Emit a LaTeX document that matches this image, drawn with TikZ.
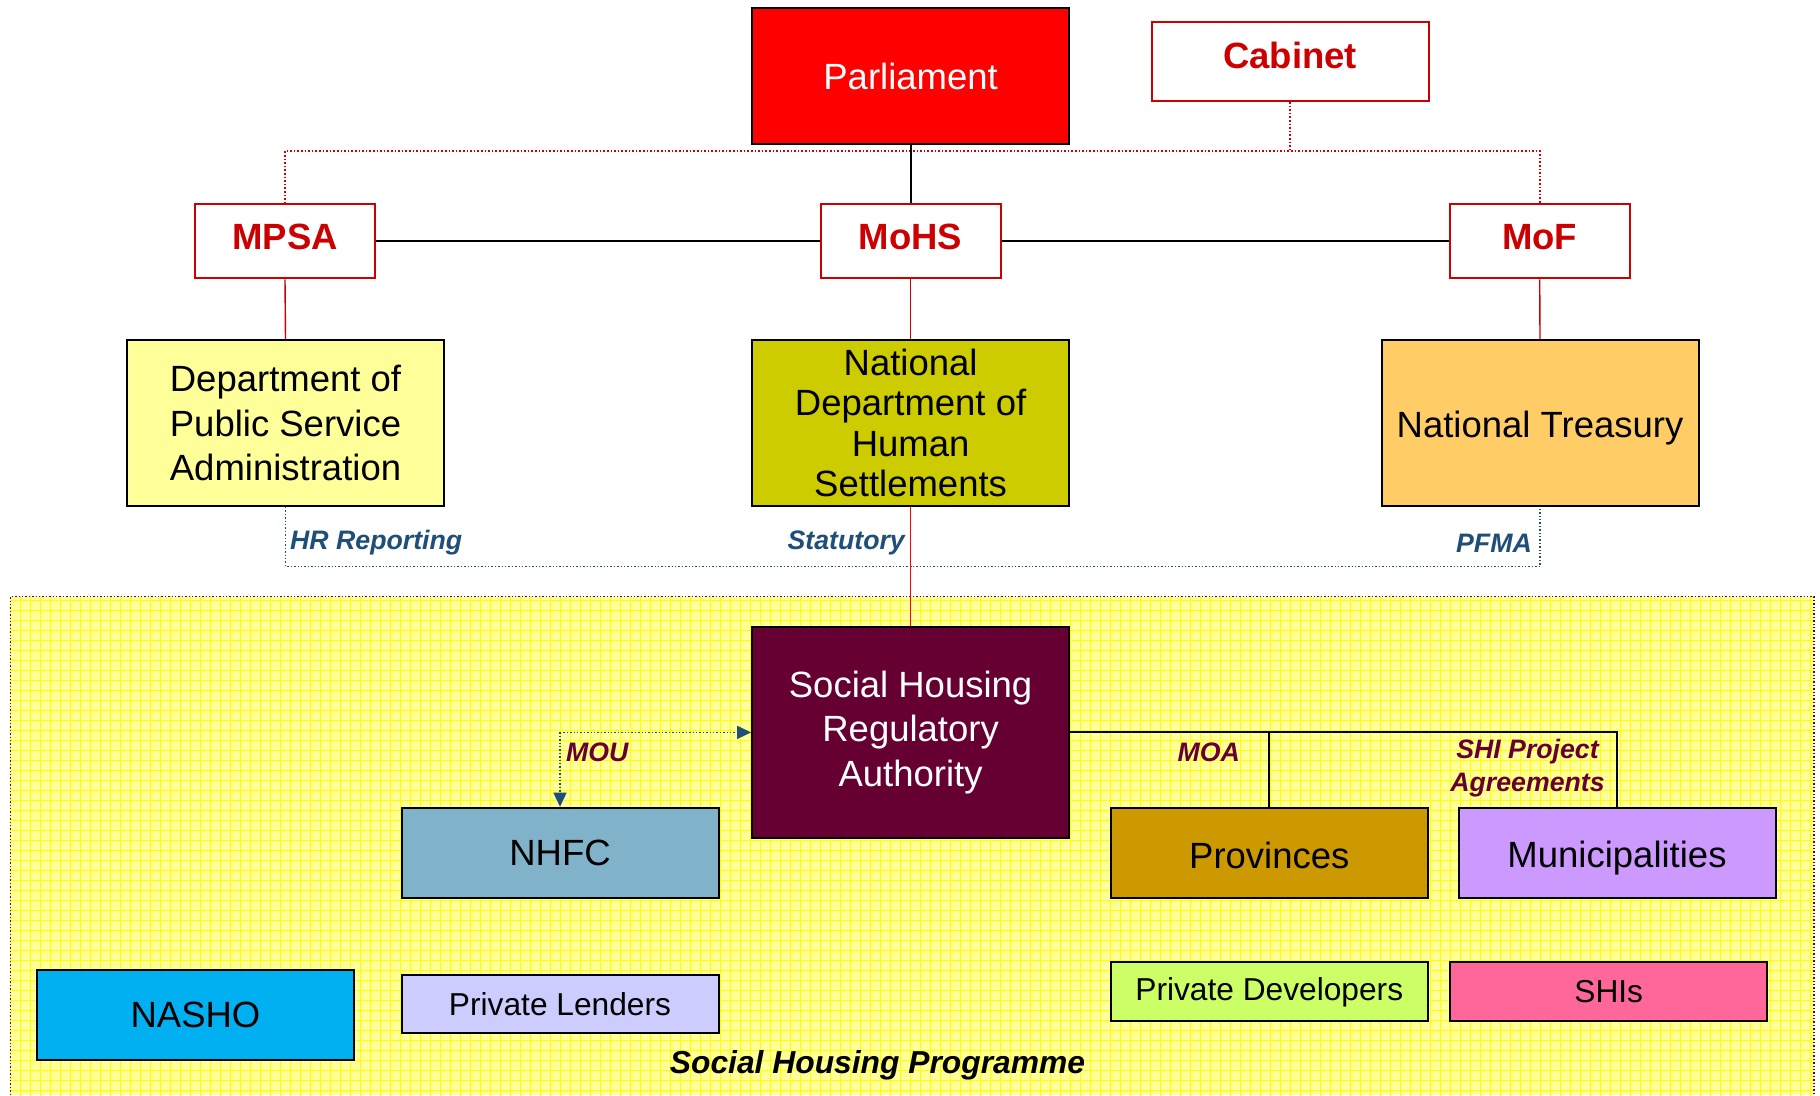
\documentclass[tikz,border=0pt]{standalone}
\usepackage{fontspec}
\setmainfont{Liberation Sans}
\usetikzlibrary{arrows.meta}
\definecolor{parlred}{HTML}{FF0000}
\definecolor{minred}{HTML}{CC0000}
\definecolor{dpsafill}{HTML}{FFFF99}
\definecolor{ndhsfill}{HTML}{CCCC00}
\definecolor{ntfill}{HTML}{FFCC66}
\definecolor{shrafill}{HTML}{660033}
\definecolor{nhfcfill}{HTML}{80B3C9}
\definecolor{provfill}{HTML}{CC9900}
\definecolor{munifill}{HTML}{CC99FF}
\definecolor{nashofill}{HTML}{00B0F0}
\definecolor{lendfill}{HTML}{CCCCFF}
\definecolor{devfill}{HTML}{CCFF66}
\definecolor{shifill}{HTML}{FF6699}
\definecolor{linkblue}{HTML}{1F4E79}
\definecolor{maroon}{HTML}{660033}
\definecolor{progbg}{HTML}{FFFF9C}
\definecolor{progmesh}{HTML}{FFFF00}
% a one-line label set on its baseline, shifted by #1 from the node centre
\newcommand{\lifted}[2]{\raisebox{#1}[0pt][0pt]{#2}}
\begin{document}
\begin{tikzpicture}[x=1pt,y=-1pt,
  box/.style={draw=black, line width=2pt, inner sep=0pt, align=center,
    minimum width=317pt, font=\fontsize{36.5}{44.7}\selectfont},
  smallbox/.style={box, font=\fontsize{31.7}{38}\selectfont},
  minbox/.style={draw=minred, fill=white, line width=2pt, inner sep=0pt,
    minimum width=180pt, minimum height=74pt, text=minred,
    font=\fontsize{36.5}{44}\selectfont\bfseries},
  bluelabel/.style={text=linkblue, inner sep=0pt,
    font=\fontsize{26.7}{31}\selectfont\bfseries\itshape},
  maroonlabel/.style={text=maroon, inner sep=0pt, align=center,
    font=\fontsize{26.7}{32.5}\selectfont\bfseries\itshape},
  reddots/.style={draw=minred, line width=1.6pt, dotted},
  bluedots/.style={draw=linkblue, line width=1.4pt, dotted},
  link/.style={draw=black, line width=2pt},
]
\useasboundingbox (0,0) rectangle (1820,1095);
\fill[white] (0,0) rectangle (1820,1095);

% Social Housing Programme area with its mesh
\fill[progbg] (10.4,596.6) rectangle (1814,1095);
\begin{scope}
  \clip (10.4,596.6) rectangle (1814,1095);
  \draw[progmesh, line width=1pt, xstep=10pt, ystep=10pt] (10,596) grid (1820,1100);
\end{scope}
\draw[maroon, line width=1.4pt, dotted] (10.4,1095) -- (10.4,596.6) -- (1814,596.6) -- (1814,1095);

% Nodes
\node[box, fill=parlred, text=white, minimum height=136pt] (parl) at (910.6,76) {Parliament};
\node[minbox, minimum width=277pt, minimum height=79pt] (cab) at (1290,61.5) {\lifted{-6.5pt}{Cabinet}};
\node[minbox] (mpsa) at (285,241.4) {\lifted{-8.5pt}{MPSA}};
\node[minbox] (mohs) at (910.6,241.4) {\lifted{-8.5pt}{MoHS}};
\node[minbox] (mof) at (1539.7,241.4) {\lifted{-8.5pt}{MoF}};

\node[box, fill=dpsafill, minimum height=166pt] (dpsa) at (285.5,423) {Department of\\Public Service\\Administration};
\node[box, fill=ndhsfill, minimum height=166pt, font=\fontsize{36.5}{40.3}\selectfont] (ndhs) at (910.6,423) {National\\Department of\\Human\\Settlements};
\node[box, fill=ntfill, minimum height=166pt] (nt) at (1540,423) {\lifted{-14.5pt}{National Treasury}};

\node[box, fill=shrafill, text=white, minimum height=211pt] (shra) at (910.6,732.4) {Social Housing\\Regulatory\\Authority};
\node[box, fill=nhfcfill, minimum height=90.6pt] (nhfc) at (560,853) {NHFC};
\node[box, fill=provfill, minimum height=90.6pt] (prov) at (1269.3,853) {\lifted{-15pt}{Provinces}};
\node[box, fill=munifill, minimum height=90.6pt] (muni) at (1617,853) {\lifted{-14.5pt}{Municipalities}};

\node[box, fill=nashofill, minimum height=89.3pt] (nasho) at (195.5,1015) {NASHO};
\node[smallbox, fill=lendfill, minimum height=58pt] (lend) at (560,1004) {Private Lenders};
\node[smallbox, fill=devfill, minimum height=59pt] (dev) at (1269.3,991.8) {Private Developers};
\node[smallbox, fill=shifill, minimum height=59pt] (shi) at (1608.7,991.8) {SHIs};

% Political oversight: Parliament and Cabinet over the ministers
\coordinate (rail) at (910.6,150.9);
\draw[reddots] (mpsa.north) |- (rail) -| (mof.north);
\draw[reddots] (cab.south) -- (cab.south |- rail);
\draw[link] (parl.south) -- (mohs.north);

% Ministers
\draw[link] (mpsa.east) -- (mohs.west);
\draw[link] (mohs.east) -- (mof.west);
\draw[minred, line width=1.4pt] (mpsa.south) -- (dpsa.north);
\draw[minred, line width=1.4pt] (mohs.south) -- (ndhs.north);
\draw[minred, line width=1.4pt] (mof.south) -- (nt.north);

% Reporting lines of the departments
\coordinate (report) at (910.6,566.4);
\draw[bluedots] (dpsa.south) |- (report) -| (nt.south);
\draw[parlred, line width=1.6pt] (ndhs.south) -- (shra.north);
\node[bluelabel, anchor=west] (hrlab) at (290,543) {HR Reporting};
\node[bluelabel, anchor=east] (statlab) at (905,543) {Statutory};
\node[bluelabel, anchor=east] (pfmalab) at (1532,543) {PFMA};

% Agreements of the regulator
\coordinate (mouc) at (nhfc.north |- shra.west);
\draw[bluedots, -{Triangle[length=14pt, width=13pt]}] (mouc) -- (shra.west);
\draw[bluedots, -{Triangle[length=14pt, width=13pt]}] (mouc) -- (nhfc.north);
\node[maroonlabel, anchor=west] (moulab) at (566,752) {MOU};

\coordinate (agr) at (muni.north |- shra.east);
\draw[link] (shra.east) -- (agr) -- (muni.north);
\draw[link] (prov.north |- shra.east) -- (prov.north);
\node[maroonlabel, anchor=east] (moalab) at (1240,752) {MOA};
\node[maroonlabel] (shilab) at (1527.5,768) {SHI Project\\Agreements};

\node[inner sep=0pt, font=\fontsize{31.8}{36}\selectfont\bfseries\itshape] (title) at (877.5,1065.5) {Social Housing Programme};
\end{tikzpicture}
\end{document}
